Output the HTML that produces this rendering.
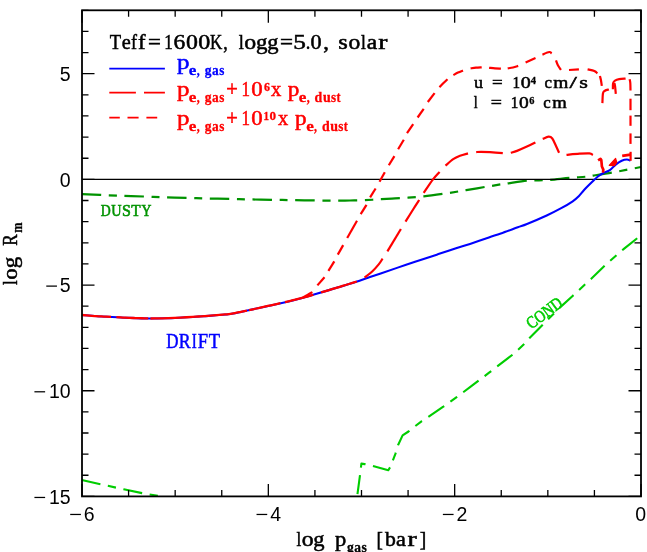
<!DOCTYPE html>
<html><head><meta charset="utf-8"><title>log Rm vs log pgas</title>
<style>
html,body{margin:0;padding:0;background:#fff;}
body{width:647px;height:552px;overflow:hidden;font-family:"Liberation Serif",serif;}
svg{display:block;will-change:transform;}
svg text{font-kerning:none;}
</style></head><body>
<svg width="647" height="552" viewBox="0 0 647 552">
<rect x="0" y="0" width="647" height="552" fill="#ffffff"/>
<path d="M81.80 480.00 L100.40 484.20 L123.70 489.30 L142.00 493.10 L158.20 495.90" fill="none" stroke="#00cd00" stroke-width="2.1" stroke-linecap="butt" stroke-linejoin="round" stroke-dasharray="19.2 7.6 8.3 7.6" stroke-dashoffset="0.13"/>
<path d="M357.40 494.80 L360.00 475.20 L361.40 463.60 L364.60 464.10 L372.60 465.90 L388.30 470.20 L390.30 467.00 L395.40 453.90 L398.00 445.20 L402.60 435.40 L408.50 431.50 L415.00 426.30 L421.50 421.30 L427.60 417.40 L443.30 406.70 L456.30 397.40 L470.00 387.20 L489.10 372.70 L496.20 367.20 L513.10 354.30 L524.20 344.10 L529.80 337.80 L544.20 323.20 L559.80 307.60 L572.60 296.00 L585.40 284.10 L591.00 278.90 L607.00 263.50 L618.70 253.30 L624.80 248.10 L637.70 237.90 L640.80 235.60" fill="none" stroke="#00cd00" stroke-width="2.1" stroke-linecap="butt" stroke-linejoin="round" stroke-dasharray="19.2 7.6 8.3 7.6" stroke-dashoffset="42.13"/>
<path d="M82.00 194.10 C85.00 194.23 93.83 194.63 100.00 194.90 C106.17 195.17 111.75 195.43 119.00 195.70 C126.25 195.97 136.27 196.23 143.50 196.50 C150.73 196.77 155.23 197.08 162.40 197.30 C169.57 197.52 179.27 197.60 186.50 197.80 C193.73 198.00 198.63 198.32 205.80 198.50 C212.97 198.68 222.33 198.75 229.50 198.90 C236.67 199.05 241.57 199.25 248.80 199.40 C256.03 199.55 265.67 199.68 272.90 199.80 C280.13 199.92 284.83 199.98 292.20 200.10 C299.57 200.22 309.93 200.42 317.10 200.50 C324.27 200.58 329.72 200.60 335.20 200.60 C340.68 200.60 345.03 200.58 350.00 200.50 C354.97 200.42 359.77 200.32 365.00 200.10 C370.23 199.88 376.40 199.48 381.40 199.20 C386.40 198.92 390.57 198.65 395.00 198.40 C399.43 198.15 403.22 198.03 408.00 197.70 C412.78 197.37 417.92 197.03 423.70 196.40 C429.48 195.77 436.97 194.72 442.70 193.90 C448.43 193.08 454.18 192.13 458.10 191.50 C462.02 190.87 461.75 190.85 466.20 190.10 C470.65 189.35 479.05 187.95 484.80 187.00 C490.55 186.05 496.78 185.02 500.70 184.40 C504.62 183.78 503.93 183.92 508.30 183.30 C512.67 182.68 521.78 181.20 526.90 180.70 C532.02 180.20 535.07 180.45 539.00 180.30 C542.93 180.15 545.40 180.20 550.50 179.80 C555.60 179.40 563.73 178.42 569.60 177.90 C575.47 177.38 581.78 177.08 585.70 176.70 C589.62 176.32 588.67 176.30 593.10 175.60 C597.53 174.90 606.55 173.50 612.30 172.50 C618.05 171.50 622.82 170.52 627.60 169.60 C632.38 168.68 638.77 167.43 641.00 167.00" fill="none" stroke="#009300" stroke-width="2.2" stroke-linecap="butt" stroke-linejoin="round" stroke-dasharray="19.2 7.6 8.3 7.6" stroke-dashoffset="0"/>
<line x1="82.00" y1="179.38" x2="641.00" y2="179.38" stroke="#000" stroke-width="1.1"/>
<path d="M82.00 315.00 C84.50 315.20 91.98 315.87 97.00 316.20 C102.02 316.53 106.60 316.72 112.10 317.00 C117.60 317.28 123.82 317.65 130.00 317.90 C136.18 318.15 143.37 318.43 149.20 318.50 C155.03 318.57 160.05 318.43 165.00 318.30 C169.95 318.17 172.47 318.05 178.90 317.70 C185.33 317.35 195.08 316.82 203.60 316.20 C212.12 315.58 222.72 314.95 230.00 314.00 C237.28 313.05 238.65 312.35 247.30 310.50 C255.95 308.65 272.88 304.95 281.90 302.90 C290.92 300.85 295.62 299.72 301.40 298.20 C307.18 296.68 310.47 295.62 316.60 293.80 C322.73 291.98 331.72 289.27 338.20 287.30 C344.68 285.33 350.20 283.72 355.50 282.00 C360.80 280.28 365.80 278.43 370.00 277.00 C374.20 275.57 374.68 275.43 380.70 273.40 C386.72 271.37 397.65 267.63 406.10 264.80 C414.55 261.97 425.75 258.27 431.40 256.40 C437.05 254.53 435.77 254.98 440.00 253.60 C444.23 252.22 451.80 249.72 456.80 248.10 C461.80 246.48 464.65 245.68 470.00 243.90 C475.35 242.12 483.77 239.13 488.90 237.40 C494.03 235.67 495.98 235.18 500.80 233.50 C505.62 231.82 513.43 228.88 517.80 227.30 C522.17 225.72 522.18 225.97 527.00 224.00 C531.82 222.03 541.00 218.13 546.70 215.50 C552.40 212.87 556.87 210.57 561.20 208.20 C565.53 205.83 569.82 203.27 572.70 201.30 C575.58 199.33 576.57 198.33 578.50 196.40 C580.43 194.47 582.05 192.10 584.30 189.70 C586.55 187.30 589.73 184.20 592.00 182.00 C594.27 179.80 596.05 177.97 597.90 176.50 C599.75 175.03 601.12 174.25 603.10 173.20 C605.08 172.15 607.70 171.63 609.80 170.20 C611.90 168.77 613.72 166.17 615.70 164.60 C617.68 163.03 619.83 161.65 621.70 160.80 C623.57 159.95 625.45 159.52 626.90 159.50 C628.35 159.48 629.82 160.50 630.40 160.70" fill="none" stroke="#0000ff" stroke-width="2.1" stroke-linecap="butt" stroke-linejoin="round"/>
<path d="M82.00 315.00 C83.21 315.10 86.83 315.39 89.25 315.58 C91.67 315.77 94.08 316.00 96.50 316.16 C98.92 316.32 101.33 316.43 103.75 316.56 C106.17 316.69 109.79 316.88 111.00 316.94" fill="none" stroke="#ff0000" stroke-width="2.3000000000000003" stroke-linecap="butt" stroke-linejoin="round"/>
<path d="M116.40 317.22 C117.46 317.27 120.64 317.43 122.76 317.54 C124.88 317.64 127.00 317.77 129.12 317.86 C131.24 317.94 133.36 318.00 135.48 318.07 C137.60 318.14 139.72 318.20 141.84 318.27 C143.96 318.34 147.14 318.44 148.20 318.47" fill="none" stroke="#ff0000" stroke-width="2.3000000000000003" stroke-linecap="butt" stroke-linejoin="round"/>
<path d="M150.40 318.48 C151.41 318.47 154.42 318.43 156.43 318.41 C158.44 318.38 160.45 318.38 162.46 318.33 C164.47 318.29 166.48 318.22 168.49 318.15 C170.50 318.08 172.51 317.98 174.53 317.89 C176.54 317.80 178.55 317.71 180.56 317.60 C182.57 317.49 184.58 317.36 186.59 317.23 C188.60 317.11 190.61 316.99 192.62 316.87 C194.63 316.74 196.64 316.63 198.65 316.50 C200.66 316.37 202.67 316.26 204.68 316.11 C206.69 315.96 208.70 315.77 210.71 315.61 C212.72 315.44 214.73 315.27 216.74 315.10 C218.75 314.94 220.76 314.77 222.78 314.60 C224.79 314.43 226.80 314.36 228.81 314.10 C230.82 313.84 232.83 313.40 234.84 313.02 C236.85 312.64 238.86 312.21 240.87 311.80 C242.88 311.39 245.89 310.78 246.90 310.58" fill="none" stroke="#ff0000" stroke-width="2.3000000000000003" stroke-linecap="butt" stroke-linejoin="round"/>
<path d="M249.00 310.13 C250.05 309.90 253.19 309.21 255.28 308.75 C257.37 308.29 259.47 307.83 261.56 307.37 C263.65 306.91 265.75 306.45 267.84 305.99 C269.93 305.53 272.03 305.07 274.12 304.61 C276.21 304.15 279.35 303.46 280.40 303.23" fill="none" stroke="#ff0000" stroke-width="2.3000000000000003" stroke-linecap="butt" stroke-linejoin="round"/>
<path d="M285.00 302.15 C286.18 301.87 289.73 301.01 292.10 300.44 C294.47 299.87 296.83 299.34 299.20 298.73 C301.57 298.12 303.93 297.45 306.30 296.78 C308.67 296.11 312.22 295.07 313.40 294.73" fill="none" stroke="#ff0000" stroke-width="2.3000000000000003" stroke-linecap="butt" stroke-linejoin="round"/>
<path d="M321.10 292.45 C322.29 292.09 325.87 291.01 328.26 290.29 C330.65 289.57 333.03 288.86 335.42 288.14 C337.81 287.41 340.19 286.69 342.58 285.96 C344.97 285.23 347.35 284.50 349.74 283.76 C352.13 283.02 355.71 281.89 356.90 281.52" fill="none" stroke="#ff0000" stroke-width="2.3000000000000003" stroke-linecap="butt" stroke-linejoin="round"/>
<path d="M303.00 297.40 C303.75 297.00 305.93 295.88 307.50 295.00 C309.07 294.12 311.58 292.58 312.40 292.10" fill="none" stroke="#ff0000" stroke-width="2.2" stroke-linecap="butt" stroke-linejoin="round"/>
<path d="M317.40 285.40 L324.50 277.20" fill="none" stroke="#ff0000" stroke-width="2.2" stroke-linecap="butt" stroke-linejoin="round"/>
<path d="M328.40 270.80 L334.30 261.40" fill="none" stroke="#ff0000" stroke-width="2.2" stroke-linecap="butt" stroke-linejoin="round"/>
<path d="M337.80 254.60 L343.20 245.10" fill="none" stroke="#ff0000" stroke-width="2.2" stroke-linecap="butt" stroke-linejoin="round"/>
<path d="M347.20 238.00 L357.00 220.70" fill="none" stroke="#ff0000" stroke-width="2.2" stroke-linecap="butt" stroke-linejoin="round"/>
<path d="M360.70 214.10 L366.50 204.90" fill="none" stroke="#ff0000" stroke-width="2.2" stroke-linecap="butt" stroke-linejoin="round"/>
<path d="M370.10 197.30 L375.60 188.50" fill="none" stroke="#ff0000" stroke-width="2.2" stroke-linecap="butt" stroke-linejoin="round"/>
<path d="M379.50 181.70 L384.80 172.30" fill="none" stroke="#ff0000" stroke-width="2.2" stroke-linecap="butt" stroke-linejoin="round"/>
<path d="M388.80 165.30 L394.40 156.10" fill="none" stroke="#ff0000" stroke-width="2.2" stroke-linecap="butt" stroke-linejoin="round"/>
<path d="M398.10 149.20 L403.80 139.80" fill="none" stroke="#ff0000" stroke-width="2.2" stroke-linecap="butt" stroke-linejoin="round"/>
<path d="M407.00 133.20 L413.20 124.20" fill="none" stroke="#ff0000" stroke-width="2.2" stroke-linecap="butt" stroke-linejoin="round"/>
<path d="M417.60 117.50 L423.70 108.80" fill="none" stroke="#ff0000" stroke-width="2.2" stroke-linecap="butt" stroke-linejoin="round"/>
<path d="M427.80 102.00 L434.60 93.10" fill="none" stroke="#ff0000" stroke-width="2.2" stroke-linecap="butt" stroke-linejoin="round"/>
<path d="M439.50 87.20 C440.17 86.50 442.17 84.33 443.50 83.00 C444.83 81.67 446.83 79.83 447.50 79.20" fill="none" stroke="#ff0000" stroke-width="2.2" stroke-linecap="butt" stroke-linejoin="round"/>
<path d="M453.40 75.10 C454.17 74.68 456.40 73.37 458.00 72.60 C459.60 71.83 462.17 70.85 463.00 70.50" fill="none" stroke="#ff0000" stroke-width="2.2" stroke-linecap="butt" stroke-linejoin="round"/>
<path d="M470.60 68.40 C471.50 68.28 474.15 67.87 476.00 67.70 C477.85 67.53 480.75 67.45 481.70 67.40" fill="none" stroke="#ff0000" stroke-width="2.2" stroke-linecap="butt" stroke-linejoin="round"/>
<path d="M489.10 67.80 C490.08 67.88 493.03 68.17 495.00 68.30 C496.97 68.43 499.92 68.55 500.90 68.60" fill="none" stroke="#ff0000" stroke-width="2.2" stroke-linecap="butt" stroke-linejoin="round"/>
<path d="M507.70 68.40 C508.58 68.25 511.25 67.92 513.00 67.50 C514.75 67.08 517.33 66.17 518.20 65.90" fill="none" stroke="#ff0000" stroke-width="2.2" stroke-linecap="butt" stroke-linejoin="round"/>
<path d="M525.60 62.40 L535.50 57.90" fill="none" stroke="#ff0000" stroke-width="2.2" stroke-linecap="butt" stroke-linejoin="round"/>
<path d="M542.40 54.60 C543.53 54.17 547.65 52.20 549.20 52.00 C550.75 51.80 551.28 53.17 551.70 53.40" fill="none" stroke="#ff0000" stroke-width="2.2" stroke-linecap="butt" stroke-linejoin="round"/>
<path d="M556.00 60.40 C556.32 61.22 557.07 63.72 557.90 65.30 C558.73 66.88 560.48 69.13 561.00 69.90" fill="none" stroke="#ff0000" stroke-width="2.2" stroke-linecap="butt" stroke-linejoin="round"/>
<path d="M569.00 70.00 L578.90 69.30" fill="none" stroke="#ff0000" stroke-width="2.2" stroke-linecap="butt" stroke-linejoin="round"/>
<path d="M587.60 69.40 C588.73 69.65 592.77 70.23 594.40 70.90 C596.03 71.57 596.90 72.98 597.40 73.40" fill="none" stroke="#ff0000" stroke-width="2.2" stroke-linecap="butt" stroke-linejoin="round"/>
<path d="M599.90 75.90 C600.08 76.67 600.68 78.85 601.00 80.50 C601.32 82.15 601.67 84.92 601.80 85.80" fill="none" stroke="#ff0000" stroke-width="2.2" stroke-linecap="butt" stroke-linejoin="round"/>
<path d="M602.40 103.10 C602.50 101.45 602.58 95.27 603.00 93.20 C603.42 91.13 603.92 91.32 604.90 90.70 C605.88 90.08 608.23 89.70 608.90 89.50" fill="none" stroke="#ff0000" stroke-width="2.2" stroke-linecap="butt" stroke-linejoin="round"/>
<path d="M612.90 89.30 C612.93 88.28 612.75 84.65 613.10 83.20 C613.45 81.75 613.98 81.28 615.00 80.60 C616.02 79.92 617.43 79.43 619.20 79.10 C620.97 78.77 624.53 78.68 625.60 78.60" fill="none" stroke="#ff0000" stroke-width="2.2" stroke-linecap="butt" stroke-linejoin="round"/>
<path d="M614.40 83.10 C614.52 83.67 614.87 84.70 615.10 86.50 C615.33 88.30 615.68 92.67 615.80 93.90" fill="none" stroke="#ff0000" stroke-width="2.2" stroke-linecap="butt" stroke-linejoin="round"/>
<path d="M629.60 79.20 C629.72 79.83 630.15 81.12 630.30 83.00 C630.45 84.88 630.47 89.25 630.50 90.50" fill="none" stroke="#ff0000" stroke-width="2.2" stroke-linecap="butt" stroke-linejoin="round"/>
<path d="M630.50 98.70 L630.50 110.20" fill="none" stroke="#ff0000" stroke-width="2.2" stroke-linecap="butt" stroke-linejoin="round"/>
<path d="M630.50 115.60 L630.50 125.80" fill="none" stroke="#ff0000" stroke-width="2.2" stroke-linecap="butt" stroke-linejoin="round"/>
<path d="M630.50 133.40 L630.50 143.90" fill="none" stroke="#ff0000" stroke-width="2.2" stroke-linecap="butt" stroke-linejoin="round"/>
<path d="M630.60 151.80 L630.60 160.80" fill="none" stroke="#ff0000" stroke-width="2.2" stroke-linecap="butt" stroke-linejoin="round"/>
<path d="M364.60 277.60 C365.87 276.58 369.85 273.70 372.20 271.50 C374.55 269.30 376.97 266.53 378.70 264.40 C380.43 262.27 381.95 259.65 382.60 258.70" fill="none" stroke="#ff0000" stroke-width="2.2" stroke-linecap="butt" stroke-linejoin="round"/>
<path d="M387.40 251.40 L400.90 229.00" fill="none" stroke="#ff0000" stroke-width="2.2" stroke-linecap="butt" stroke-linejoin="round"/>
<path d="M405.50 221.70 C406.82 219.58 411.12 212.62 413.40 209.00 C415.68 205.38 418.23 201.50 419.20 200.00" fill="none" stroke="#ff0000" stroke-width="2.2" stroke-linecap="butt" stroke-linejoin="round"/>
<path d="M423.70 192.90 C425.22 190.68 430.15 183.10 432.80 179.60 C435.45 176.10 438.47 173.18 439.60 171.90" fill="none" stroke="#ff0000" stroke-width="2.2" stroke-linecap="butt" stroke-linejoin="round"/>
<path d="M445.50 165.70 C446.78 164.62 450.78 160.85 453.20 159.20 C455.62 157.55 457.53 156.77 460.00 155.80 C462.47 154.83 466.67 153.80 468.00 153.40" fill="none" stroke="#ff0000" stroke-width="2.2" stroke-linecap="butt" stroke-linejoin="round"/>
<path d="M476.20 152.10 C477.02 152.05 478.80 151.78 481.10 151.80 C483.40 151.82 486.38 151.98 490.00 152.20 C493.62 152.42 500.67 152.95 502.80 153.10" fill="none" stroke="#ff0000" stroke-width="2.2" stroke-linecap="butt" stroke-linejoin="round"/>
<path d="M510.80 152.80 C511.83 152.48 514.32 151.93 517.00 150.90 C519.68 149.87 523.83 148.02 526.90 146.60 C529.97 145.18 533.98 143.10 535.40 142.40" fill="none" stroke="#ff0000" stroke-width="2.2" stroke-linecap="butt" stroke-linejoin="round"/>
<path d="M542.70 138.90 C543.68 138.53 547.00 136.77 548.60 136.70 C550.20 136.63 551.07 136.95 552.30 138.50 C553.53 140.05 554.87 143.62 556.00 146.00 C557.13 148.38 558.58 151.67 559.10 152.80" fill="none" stroke="#ff0000" stroke-width="2.2" stroke-linecap="butt" stroke-linejoin="round"/>
<path d="M566.50 154.90 C568.67 154.70 575.68 153.95 579.50 153.70 C583.32 153.45 587.17 153.18 589.40 153.40 C591.63 153.62 592.32 154.73 592.90 155.00" fill="none" stroke="#ff0000" stroke-width="2.2" stroke-linecap="butt" stroke-linejoin="round"/>
<path d="M598.10 160.40 L600.50 158.90 L601.30 160.00 L601.90 166.50 L603.30 169.60 L603.00 172.70" fill="none" stroke="#ff0000" stroke-width="2.7" stroke-linecap="butt" stroke-linejoin="round"/>
<path d="M609.2 165.3 L615.6 158.5 L616.8 162.4 L614.4 165.6 Z" fill="#ff0000" stroke="#ff0000" stroke-width="1.2" stroke-linejoin="round"/>
<path d="M622.20 155.90 L630.60 154.60" fill="none" stroke="#ff0000" stroke-width="2.6" stroke-linecap="butt" stroke-linejoin="round"/>
<rect x="82.00" y="10.30" width="559.00" height="486.10" fill="none" stroke="#000" stroke-width="1.8"/>
<path d="M82.00 496.40 v-12.50 M82.00 10.30 v12.50 M128.58 496.40 v-6.50 M128.58 10.30 v6.50 M175.17 496.40 v-6.50 M175.17 10.30 v6.50 M221.75 496.40 v-6.50 M221.75 10.30 v6.50 M268.33 496.40 v-12.50 M268.33 10.30 v12.50 M314.92 496.40 v-6.50 M314.92 10.30 v6.50 M361.50 496.40 v-6.50 M361.50 10.30 v6.50 M408.08 496.40 v-6.50 M408.08 10.30 v6.50 M454.67 496.40 v-12.50 M454.67 10.30 v12.50 M501.25 496.40 v-6.50 M501.25 10.30 v6.50 M547.83 496.40 v-6.50 M547.83 10.30 v6.50 M594.42 496.40 v-6.50 M594.42 10.30 v6.50 M641.00 496.40 v-12.50 M641.00 10.30 v12.50 M82.00 496.40 h12.50 M641.00 496.40 h-12.50 M82.00 475.27 h6.50 M641.00 475.27 h-6.50 M82.00 454.13 h6.50 M641.00 454.13 h-6.50 M82.00 433.00 h6.50 M641.00 433.00 h-6.50 M82.00 411.86 h6.50 M641.00 411.86 h-6.50 M82.00 390.73 h12.50 M641.00 390.73 h-12.50 M82.00 369.59 h6.50 M641.00 369.59 h-6.50 M82.00 348.46 h6.50 M641.00 348.46 h-6.50 M82.00 327.32 h6.50 M641.00 327.32 h-6.50 M82.00 306.19 h6.50 M641.00 306.19 h-6.50 M82.00 285.05 h12.50 M641.00 285.05 h-12.50 M82.00 263.92 h6.50 M641.00 263.92 h-6.50 M82.00 242.78 h6.50 M641.00 242.78 h-6.50 M82.00 221.65 h6.50 M641.00 221.65 h-6.50 M82.00 200.51 h6.50 M641.00 200.51 h-6.50 M82.00 179.38 h12.50 M641.00 179.38 h-12.50 M82.00 158.24 h6.50 M641.00 158.24 h-6.50 M82.00 137.11 h6.50 M641.00 137.11 h-6.50 M82.00 115.97 h6.50 M641.00 115.97 h-6.50 M82.00 94.84 h6.50 M641.00 94.84 h-6.50 M82.00 73.70 h12.50 M641.00 73.70 h-12.50 M82.00 52.57 h6.50 M641.00 52.57 h-6.50 M82.00 31.43 h6.50 M641.00 31.43 h-6.50 M82.00 10.30 h6.50 M641.00 10.30 h-6.50" stroke="#000" stroke-width="1.3" fill="none"/>
<text x="70.70" y="81.10" font-family="Liberation Sans, sans-serif" font-size="19.5" text-anchor="end">5</text>
<text x="70.70" y="186.78" font-family="Liberation Sans, sans-serif" font-size="19.5" text-anchor="end">0</text>
<text x="70.70" y="292.45" font-family="Liberation Sans, sans-serif" font-size="19.5" text-anchor="end">5</text>
<line x1="46.26" y1="286.11" x2="56.96" y2="286.11" stroke="#000" stroke-width="1.25"/>
<text x="70.70" y="398.13" font-family="Liberation Sans, sans-serif" font-size="19.5" text-anchor="end">10</text>
<line x1="34.42" y1="391.79" x2="45.12" y2="391.79" stroke="#000" stroke-width="1.25"/>
<text x="70.70" y="503.80" font-family="Liberation Sans, sans-serif" font-size="19.5" text-anchor="end">15</text>
<line x1="34.42" y1="497.46" x2="45.12" y2="497.46" stroke="#000" stroke-width="1.25"/>
<text x="83.80" y="520.80" font-family="Liberation Sans, sans-serif" font-size="19.5" text-anchor="start">6</text>
<line x1="70.20" y1="514.46" x2="80.90" y2="514.46" stroke="#000" stroke-width="1.25"/>
<text x="270.13" y="520.80" font-family="Liberation Sans, sans-serif" font-size="19.5" text-anchor="start">4</text>
<line x1="256.53" y1="514.46" x2="267.23" y2="514.46" stroke="#000" stroke-width="1.25"/>
<text x="456.47" y="520.80" font-family="Liberation Sans, sans-serif" font-size="19.5" text-anchor="start">2</text>
<line x1="442.87" y1="514.46" x2="453.57" y2="514.46" stroke="#000" stroke-width="1.25"/>
<text x="640.60" y="520.80" font-family="Liberation Sans, sans-serif" font-size="19.5" text-anchor="middle">0</text>
<text transform="translate(109.78 48.90) scale(0.930 1)" font-family="Liberation Serif, serif" font-size="20" font-weight="normal" fill="#000" stroke="#000" stroke-width="0.5">T</text>
<text transform="translate(121.74 48.90) scale(1.014 1)" font-family="Liberation Serif, serif" font-size="20" font-weight="normal" fill="#000" stroke="#000" stroke-width="0.5">e</text>
<text transform="translate(131.11 48.90) scale(0.902 1)" font-family="Liberation Serif, serif" font-size="20" font-weight="normal" fill="#000" stroke="#000" stroke-width="0.5">f</text>
<text transform="translate(137.97 48.90) scale(1.131 1)" font-family="Liberation Serif, serif" font-size="20" font-weight="normal" fill="#000" stroke="#000" stroke-width="0.5">f</text>
<text transform="translate(148.01 48.90) scale(1.140 1)" font-family="Liberation Serif, serif" font-size="20" font-weight="normal" fill="#000" stroke="#000" stroke-width="0.5">=</text>
<text transform="translate(164.14 48.90) scale(0.850 1)" font-family="Liberation Serif, serif" font-size="20" font-weight="normal" fill="#000" stroke="#000" stroke-width="0.5">1</text>
<text transform="translate(173.39 48.90) scale(1.176 1)" font-family="Liberation Serif, serif" font-size="20" font-weight="normal" fill="#000" stroke="#000" stroke-width="0.5">6</text>
<text transform="translate(185.90 48.90) scale(1.190 1)" font-family="Liberation Serif, serif" font-size="20" font-weight="normal" fill="#000" stroke="#000" stroke-width="0.5">0</text>
<text transform="translate(198.19 48.90) scale(1.202 1)" font-family="Liberation Serif, serif" font-size="20" font-weight="normal" fill="#000" stroke="#000" stroke-width="0.5">0</text>
<text transform="translate(210.11 48.90) scale(0.850 1)" font-family="Liberation Serif, serif" font-size="20" font-weight="normal" fill="#000" stroke="#000" stroke-width="0.5">K</text>
<text transform="translate(223.23 48.90) scale(0.897 1)" font-family="Liberation Serif, serif" font-size="20" font-weight="normal" fill="#000" stroke="#000" stroke-width="0.5">,</text>
<text transform="translate(238.68 48.90) scale(0.917 1)" font-family="Liberation Serif, serif" font-size="20" font-weight="normal" fill="#000" stroke="#000" stroke-width="0.5">l</text>
<text transform="translate(244.30 48.90) scale(1.190 1)" font-family="Liberation Serif, serif" font-size="20" font-weight="normal" fill="#000" stroke="#000" stroke-width="0.5">o</text>
<text transform="translate(255.92 48.90) scale(1.149 1)" font-family="Liberation Serif, serif" font-size="20" font-weight="normal" fill="#000" stroke="#000" stroke-width="0.5">g</text>
<text transform="translate(267.34 48.90) scale(1.126 1)" font-family="Liberation Serif, serif" font-size="20" font-weight="normal" fill="#000" stroke="#000" stroke-width="0.5">g</text>
<text transform="translate(279.90 48.90) scale(1.151 1)" font-family="Liberation Serif, serif" font-size="20" font-weight="normal" fill="#000" stroke="#000" stroke-width="0.5">=</text>
<text transform="translate(293.13 48.90) scale(1.263 1)" font-family="Liberation Serif, serif" font-size="20" font-weight="normal" fill="#000" stroke="#000" stroke-width="0.5">5</text>
<text transform="translate(305.66 48.90) scale(0.917 1)" font-family="Liberation Serif, serif" font-size="20" font-weight="normal" fill="#000" stroke="#000" stroke-width="0.5">.</text>
<text transform="translate(310.46 48.90) scale(1.107 1)" font-family="Liberation Serif, serif" font-size="20" font-weight="normal" fill="#000" stroke="#000" stroke-width="0.5">0</text>
<text transform="translate(323.34 48.90) scale(1.138 1)" font-family="Liberation Serif, serif" font-size="20" font-weight="normal" fill="#000" stroke="#000" stroke-width="0.5">,</text>
<text transform="translate(338.17 48.90) scale(1.222 1)" font-family="Liberation Serif, serif" font-size="20" font-weight="normal" fill="#000" stroke="#000" stroke-width="0.5">s</text>
<text transform="translate(348.41 48.90) scale(1.179 1)" font-family="Liberation Serif, serif" font-size="20" font-weight="normal" fill="#000" stroke="#000" stroke-width="0.5">o</text>
<text transform="translate(360.90 48.90) scale(0.875 1)" font-family="Liberation Serif, serif" font-size="20" font-weight="normal" fill="#000" stroke="#000" stroke-width="0.5">l</text>
<text transform="translate(366.63 48.90) scale(1.177 1)" font-family="Liberation Serif, serif" font-size="20" font-weight="normal" fill="#000" stroke="#000" stroke-width="0.5">a</text>
<text transform="translate(378.14 48.90) scale(1.380 1)" font-family="Liberation Serif, serif" font-size="20" font-weight="normal" fill="#000" stroke="#000" stroke-width="0.5">r</text>
<line x1="109.3" y1="68.6" x2="164.9" y2="68.6" stroke="#0000ff" stroke-width="1.7"/>
<path d="M109.3 92.6 H135.9 M144 92.6 H164.9" stroke="#ff0000" stroke-width="1.7" fill="none"/>
<path d="M109.3 117.6 H119.8 M127.5 117.6 H138.6 M146.4 117.6 H157.2" stroke="#ff0000" stroke-width="1.7" fill="none"/>
<text transform="translate(176.98 69.30) scale(1.247 1)" font-family="Liberation Serif, serif" font-size="20" font-weight="normal" fill="#0000ff" stroke="#0000ff" stroke-width="0.5">p</text>
<text transform="translate(188.85 74.60) scale(1.224 1)" font-family="Liberation Serif, serif" font-size="14" font-weight="bold" fill="#0000ff" stroke="#0000ff" stroke-width="0.3">e</text>
<text transform="translate(196.76 74.60) scale(0.850 1)" font-family="Liberation Serif, serif" font-size="14" font-weight="bold" fill="#0000ff" stroke="#0000ff" stroke-width="0.3">,</text>
<text transform="translate(204.81 74.60) scale(0.968 1)" font-family="Liberation Serif, serif" font-size="14" font-weight="bold" fill="#0000ff" stroke="#0000ff" stroke-width="0.3">g</text>
<text transform="translate(212.05 74.60) scale(0.958 1)" font-family="Liberation Serif, serif" font-size="14" font-weight="bold" fill="#0000ff" stroke="#0000ff" stroke-width="0.3">a</text>
<text transform="translate(219.16 74.60) scale(0.938 1)" font-family="Liberation Serif, serif" font-size="14" font-weight="bold" fill="#0000ff" stroke="#0000ff" stroke-width="0.3">s</text>
<text transform="translate(176.98 96.10) scale(1.247 1)" font-family="Liberation Serif, serif" font-size="20" font-weight="normal" fill="#ff0000" stroke="#ff0000" stroke-width="0.5">p</text>
<text transform="translate(188.85 101.50) scale(1.224 1)" font-family="Liberation Serif, serif" font-size="14" font-weight="bold" fill="#ff0000" stroke="#ff0000" stroke-width="0.3">e</text>
<text transform="translate(196.76 101.50) scale(0.850 1)" font-family="Liberation Serif, serif" font-size="14" font-weight="bold" fill="#ff0000" stroke="#ff0000" stroke-width="0.3">,</text>
<text transform="translate(204.81 101.50) scale(0.968 1)" font-family="Liberation Serif, serif" font-size="14" font-weight="bold" fill="#ff0000" stroke="#ff0000" stroke-width="0.3">g</text>
<text transform="translate(212.05 101.50) scale(0.958 1)" font-family="Liberation Serif, serif" font-size="14" font-weight="bold" fill="#ff0000" stroke="#ff0000" stroke-width="0.3">a</text>
<text transform="translate(219.16 101.50) scale(0.938 1)" font-family="Liberation Serif, serif" font-size="14" font-weight="bold" fill="#ff0000" stroke="#ff0000" stroke-width="0.3">s</text>
<text transform="translate(176.98 125.40) scale(1.247 1)" font-family="Liberation Serif, serif" font-size="20" font-weight="normal" fill="#ff0000" stroke="#ff0000" stroke-width="0.5">p</text>
<text transform="translate(188.85 130.90) scale(1.224 1)" font-family="Liberation Serif, serif" font-size="14" font-weight="bold" fill="#ff0000" stroke="#ff0000" stroke-width="0.3">e</text>
<text transform="translate(196.76 130.90) scale(0.850 1)" font-family="Liberation Serif, serif" font-size="14" font-weight="bold" fill="#ff0000" stroke="#ff0000" stroke-width="0.3">,</text>
<text transform="translate(204.81 130.90) scale(0.968 1)" font-family="Liberation Serif, serif" font-size="14" font-weight="bold" fill="#ff0000" stroke="#ff0000" stroke-width="0.3">g</text>
<text transform="translate(212.05 130.90) scale(0.958 1)" font-family="Liberation Serif, serif" font-size="14" font-weight="bold" fill="#ff0000" stroke="#ff0000" stroke-width="0.3">a</text>
<text transform="translate(219.16 130.90) scale(0.938 1)" font-family="Liberation Serif, serif" font-size="14" font-weight="bold" fill="#ff0000" stroke="#ff0000" stroke-width="0.3">s</text>
<text transform="translate(226.23 96.10) scale(1.022 1)" font-family="Liberation Serif, serif" font-size="20" font-weight="normal" fill="#ff0000" stroke="#ff0000" stroke-width="0.5">+</text>
<text transform="translate(241.50 96.10) scale(0.850 1)" font-family="Liberation Serif, serif" font-size="20" font-weight="normal" fill="#ff0000" stroke="#ff0000" stroke-width="0.5">1</text>
<text transform="translate(251.14 96.10) scale(1.143 1)" font-family="Liberation Serif, serif" font-size="20" font-weight="normal" fill="#ff0000" stroke="#ff0000" stroke-width="0.5">0</text>
<text transform="translate(270.94 96.10) scale(1.031 1)" font-family="Liberation Serif, serif" font-size="20" font-weight="normal" fill="#ff0000" stroke="#ff0000" stroke-width="0.5">x</text>
<text transform="translate(287.70 96.10) scale(1.157 1)" font-family="Liberation Serif, serif" font-size="20" font-weight="normal" fill="#ff0000" stroke="#ff0000" stroke-width="0.5">p</text>
<text transform="translate(264.03 90.50) scale(0.920 1)" font-family="Liberation Serif, serif" font-size="13" font-weight="bold" fill="#ff0000" stroke="#ff0000" stroke-width="0.3">6</text>
<text transform="translate(298.85 101.70) scale(1.224 1)" font-family="Liberation Serif, serif" font-size="14" font-weight="bold" fill="#ff0000" stroke="#ff0000" stroke-width="0.3">e</text>
<text transform="translate(306.76 101.70) scale(0.850 1)" font-family="Liberation Serif, serif" font-size="14" font-weight="bold" fill="#ff0000" stroke="#ff0000" stroke-width="0.3">,</text>
<text transform="translate(314.60 101.70) scale(0.990 1)" font-family="Liberation Serif, serif" font-size="14" font-weight="bold" fill="#ff0000" stroke="#ff0000" stroke-width="0.3">d</text>
<text transform="translate(322.94 101.70) scale(0.999 1)" font-family="Liberation Serif, serif" font-size="14" font-weight="bold" fill="#ff0000" stroke="#ff0000" stroke-width="0.3">u</text>
<text transform="translate(330.96 101.70) scale(0.938 1)" font-family="Liberation Serif, serif" font-size="14" font-weight="bold" fill="#ff0000" stroke="#ff0000" stroke-width="0.3">s</text>
<text transform="translate(336.47 101.70) scale(0.862 1)" font-family="Liberation Serif, serif" font-size="14" font-weight="bold" fill="#ff0000" stroke="#ff0000" stroke-width="0.3">t</text>
<text transform="translate(226.23 125.40) scale(1.022 1)" font-family="Liberation Serif, serif" font-size="20" font-weight="normal" fill="#ff0000" stroke="#ff0000" stroke-width="0.5">+</text>
<text transform="translate(241.50 125.40) scale(0.850 1)" font-family="Liberation Serif, serif" font-size="20" font-weight="normal" fill="#ff0000" stroke="#ff0000" stroke-width="0.5">1</text>
<text transform="translate(251.14 125.40) scale(1.143 1)" font-family="Liberation Serif, serif" font-size="20" font-weight="normal" fill="#ff0000" stroke="#ff0000" stroke-width="0.5">0</text>
<text transform="translate(278.05 125.40) scale(1.021 1)" font-family="Liberation Serif, serif" font-size="20" font-weight="normal" fill="#ff0000" stroke="#ff0000" stroke-width="0.5">x</text>
<text transform="translate(294.90 125.40) scale(1.157 1)" font-family="Liberation Serif, serif" font-size="20" font-weight="normal" fill="#ff0000" stroke="#ff0000" stroke-width="0.5">p</text>
<text transform="translate(263.47 119.80) scale(0.850 1)" font-family="Liberation Serif, serif" font-size="13" font-weight="bold" fill="#ff0000" stroke="#ff0000" stroke-width="0.3">1</text>
<text transform="translate(269.43 119.80) scale(1.007 1)" font-family="Liberation Serif, serif" font-size="13" font-weight="bold" fill="#ff0000" stroke="#ff0000" stroke-width="0.3">0</text>
<text transform="translate(306.15 131.00) scale(1.224 1)" font-family="Liberation Serif, serif" font-size="14" font-weight="bold" fill="#ff0000" stroke="#ff0000" stroke-width="0.3">e</text>
<text transform="translate(314.06 131.00) scale(0.850 1)" font-family="Liberation Serif, serif" font-size="14" font-weight="bold" fill="#ff0000" stroke="#ff0000" stroke-width="0.3">,</text>
<text transform="translate(321.90 131.00) scale(0.990 1)" font-family="Liberation Serif, serif" font-size="14" font-weight="bold" fill="#ff0000" stroke="#ff0000" stroke-width="0.3">d</text>
<text transform="translate(330.24 131.00) scale(0.999 1)" font-family="Liberation Serif, serif" font-size="14" font-weight="bold" fill="#ff0000" stroke="#ff0000" stroke-width="0.3">u</text>
<text transform="translate(338.26 131.00) scale(0.938 1)" font-family="Liberation Serif, serif" font-size="14" font-weight="bold" fill="#ff0000" stroke="#ff0000" stroke-width="0.3">s</text>
<text transform="translate(343.77 131.00) scale(0.862 1)" font-family="Liberation Serif, serif" font-size="14" font-weight="bold" fill="#ff0000" stroke="#ff0000" stroke-width="0.3">t</text>
<text transform="translate(473.88 88.00) scale(1.096 1)" font-family="Liberation Serif, serif" font-size="16.5" font-weight="normal" fill="#000" stroke="#000" stroke-width="0.5">u</text>
<text transform="translate(492.10 88.00) scale(1.147 1)" font-family="Liberation Serif, serif" font-size="16.5" font-weight="normal" fill="#000" stroke="#000" stroke-width="0.5">=</text>
<text transform="translate(512.49 88.00) scale(0.918 1)" font-family="Liberation Serif, serif" font-size="16.5" font-weight="normal" fill="#000" stroke="#000" stroke-width="0.5">1</text>
<text transform="translate(520.75 88.00) scale(1.212 1)" font-family="Liberation Serif, serif" font-size="16.5" font-weight="normal" fill="#000" stroke="#000" stroke-width="0.5">0</text>
<text transform="translate(544.48 88.00) scale(1.018 1)" font-family="Liberation Serif, serif" font-size="16.5" font-weight="normal" fill="#000" stroke="#000" stroke-width="0.5">c</text>
<text transform="translate(553.36 88.00) scale(1.179 1)" font-family="Liberation Serif, serif" font-size="16.5" font-weight="normal" fill="#000" stroke="#000" stroke-width="0.5">m</text>
<text transform="translate(569.62 88.00) scale(1.600 1)" font-family="Liberation Serif, serif" font-size="16.5" font-weight="normal" fill="#000" stroke="#000" stroke-width="0.5">/</text>
<text transform="translate(579.36 88.00) scale(1.347 1)" font-family="Liberation Serif, serif" font-size="16.5" font-weight="normal" fill="#000" stroke="#000" stroke-width="0.5">s</text>
<text transform="translate(530.69 84.00) scale(1.004 1)" font-family="Liberation Serif, serif" font-size="10.5" font-weight="bold" fill="#000" stroke="#000" stroke-width="0.3">4</text>
<text transform="translate(473.64 108.40) scale(0.850 1)" font-family="Liberation Serif, serif" font-size="16.5" font-weight="normal" fill="#000" stroke="#000" stroke-width="0.5">l</text>
<text transform="translate(490.66 108.40) scale(1.199 1)" font-family="Liberation Serif, serif" font-size="16.5" font-weight="normal" fill="#000" stroke="#000" stroke-width="0.5">=</text>
<text transform="translate(510.79 108.40) scale(0.918 1)" font-family="Liberation Serif, serif" font-size="16.5" font-weight="normal" fill="#000" stroke="#000" stroke-width="0.5">1</text>
<text transform="translate(518.97 108.40) scale(1.183 1)" font-family="Liberation Serif, serif" font-size="16.5" font-weight="normal" fill="#000" stroke="#000" stroke-width="0.5">0</text>
<text transform="translate(543.28 108.40) scale(1.018 1)" font-family="Liberation Serif, serif" font-size="16.5" font-weight="normal" fill="#000" stroke="#000" stroke-width="0.5">c</text>
<text transform="translate(552.18 108.40) scale(1.130 1)" font-family="Liberation Serif, serif" font-size="16.5" font-weight="normal" fill="#000" stroke="#000" stroke-width="0.5">m</text>
<text transform="translate(529.29 104.10) scale(0.940 1)" font-family="Liberation Serif, serif" font-size="11" font-weight="bold" fill="#000" stroke="#000" stroke-width="0.3">6</text>
<text transform="translate(100.73 215.80) scale(0.814 1)" font-family="Liberation Serif, serif" font-size="17" font-weight="normal" fill="#009300" stroke="#009300" stroke-width="0.6">D</text>
<text transform="translate(111.26 215.80) scale(0.839 1)" font-family="Liberation Serif, serif" font-size="17" font-weight="normal" fill="#009300" stroke="#009300" stroke-width="0.6">U</text>
<text transform="translate(122.01 215.80) scale(0.944 1)" font-family="Liberation Serif, serif" font-size="17" font-weight="normal" fill="#009300" stroke="#009300" stroke-width="0.6">S</text>
<text transform="translate(131.34 215.80) scale(0.900 1)" font-family="Liberation Serif, serif" font-size="17" font-weight="normal" fill="#009300" stroke="#009300" stroke-width="0.6">T</text>
<text transform="translate(141.41 215.80) scale(0.807 1)" font-family="Liberation Serif, serif" font-size="17" font-weight="normal" fill="#009300" stroke="#009300" stroke-width="0.6">Y</text>
<text transform="translate(166.14 348.20) scale(0.846 1)" font-family="Liberation Serif, serif" font-size="20" font-weight="normal" fill="#0000ff" stroke="#0000ff" stroke-width="0.5">D</text>
<text transform="translate(178.82 348.20) scale(0.890 1)" font-family="Liberation Serif, serif" font-size="20" font-weight="normal" fill="#0000ff" stroke="#0000ff" stroke-width="0.5">R</text>
<text transform="translate(191.74 348.20) scale(0.750 1)" font-family="Liberation Serif, serif" font-size="20" font-weight="normal" fill="#0000ff" stroke="#0000ff" stroke-width="0.5">I</text>
<text transform="translate(197.69 348.20) scale(0.929 1)" font-family="Liberation Serif, serif" font-size="20" font-weight="normal" fill="#0000ff" stroke="#0000ff" stroke-width="0.5">F</text>
<text transform="translate(208.68 348.20) scale(0.922 1)" font-family="Liberation Serif, serif" font-size="20" font-weight="normal" fill="#0000ff" stroke="#0000ff" stroke-width="0.5">T</text>
<g transform="translate(531.2 329.6) rotate(-36.5)">
<text x="0.00" y="0.00" font-family="Liberation Serif, serif" font-size="17" font-weight="normal" fill="#00cd00" text-anchor="start" textLength="40.60" lengthAdjust="spacingAndGlyphs" stroke="#00cd00" stroke-width="0.6" >COND</text>
</g>
<text transform="translate(296.57 546.30) scale(0.850 1)" font-family="Liberation Serif, serif" font-size="20" font-weight="normal" fill="#000" stroke="#000" stroke-width="0.5">l</text>
<text transform="translate(301.70 546.30) scale(1.190 1)" font-family="Liberation Serif, serif" font-size="20" font-weight="normal" fill="#000" stroke="#000" stroke-width="0.5">o</text>
<text transform="translate(313.34 546.30) scale(1.126 1)" font-family="Liberation Serif, serif" font-size="20" font-weight="normal" fill="#000" stroke="#000" stroke-width="0.5">g</text>
<text transform="translate(335.11 546.30) scale(1.124 1)" font-family="Liberation Serif, serif" font-size="20" font-weight="normal" fill="#000" stroke="#000" stroke-width="0.5">p</text>
<text transform="translate(376.52 546.30) scale(0.955 1)" font-family="Liberation Serif, serif" font-size="20" font-weight="normal" fill="#000" stroke="#000" stroke-width="0.5">[</text>
<text transform="translate(385.05 546.30) scale(1.087 1)" font-family="Liberation Serif, serif" font-size="20" font-weight="normal" fill="#000" stroke="#000" stroke-width="0.5">b</text>
<text transform="translate(396.07 546.30) scale(1.114 1)" font-family="Liberation Serif, serif" font-size="20" font-weight="normal" fill="#000" stroke="#000" stroke-width="0.5">a</text>
<text transform="translate(407.59 546.30) scale(1.380 1)" font-family="Liberation Serif, serif" font-size="20" font-weight="normal" fill="#000" stroke="#000" stroke-width="0.5">r</text>
<text transform="translate(419.67 546.30) scale(0.978 1)" font-family="Liberation Serif, serif" font-size="20" font-weight="normal" fill="#000" stroke="#000" stroke-width="0.5">]</text>
<text transform="translate(347.01 552.10) scale(0.968 1)" font-family="Liberation Serif, serif" font-size="14" font-weight="bold" fill="#000" stroke="#000" stroke-width="0.3">g</text>
<text transform="translate(354.25 552.10) scale(0.958 1)" font-family="Liberation Serif, serif" font-size="14" font-weight="bold" fill="#000" stroke="#000" stroke-width="0.3">a</text>
<text transform="translate(361.44 552.10) scale(0.981 1)" font-family="Liberation Serif, serif" font-size="14" font-weight="bold" fill="#000" stroke="#000" stroke-width="0.3">s</text>
<g transform="translate(16.5 285) rotate(-90)">
<text transform="translate(0.07 0.00) scale(0.850 1)" font-family="Liberation Serif, serif" font-size="20" font-weight="normal" fill="#000" stroke="#000" stroke-width="0.5">l</text>
<text transform="translate(5.55 0.00) scale(1.119 1)" font-family="Liberation Serif, serif" font-size="20" font-weight="normal" fill="#000" stroke="#000" stroke-width="0.5">o</text>
<text transform="translate(16.72 0.00) scale(1.149 1)" font-family="Liberation Serif, serif" font-size="20" font-weight="normal" fill="#000" stroke="#000" stroke-width="0.5">g</text>
<text transform="translate(39.34 0.00) scale(0.858 1)" font-family="Liberation Serif, serif" font-size="20" font-weight="normal" fill="#000" stroke="#000" stroke-width="0.5">R</text>
<text transform="translate(52.14 5.70) scale(0.877 1)" font-family="Liberation Serif, serif" font-size="14" font-weight="bold" fill="#000" stroke="#000" stroke-width="0.3">m</text>
</g>
</svg>
</body></html>
